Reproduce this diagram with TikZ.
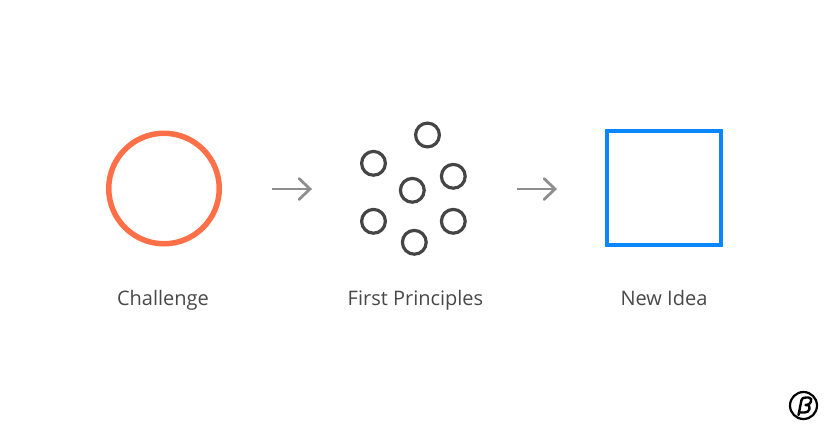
\documentclass[tikz,border=0pt]{standalone}
\usepackage{fontspec}
\setmainfont{Open Sans}
\definecolor{txt}{HTML}{484848}
\definecolor{orng}{HTML}{FF7049}
\definecolor{blu}{HTML}{0A86FF}
\definecolor{arr}{HTML}{8E8E8E}
\definecolor{dots}{HTML}{454545}
\tikzset{
  x=1pt,y=-1pt,
  small/.style={circle,draw=dots,line width=3.2pt,minimum size=23.8pt,inner sep=0pt,outer sep=0pt},
  lbl/.style={text=txt,font=\fontsize{20}{24}\selectfont,anchor=base,inner sep=0pt},
  arrline/.style={draw=arr,line width=2.8pt},
}
\begin{document}
\begin{tikzpicture}
\useasboundingbox (0,0) rectangle (830,432);
\node[circle,draw=orng,line width=5.5pt,minimum size=110.5pt,inner sep=0pt] (chal) at (164,188.5) {};
\node[draw=blu,line width=4pt,minimum size=114pt,inner sep=0pt] (idea) at (664,188) {};
\node[small] (c1) at (427.5,135) {};
\node[small] (c2) at (373.5,163.3) {};
\node[small] (c3) at (453.3,176.3) {};
\node[small] (c4) at (412.3,190.3) {};
\node[small] (c5) at (373.5,221.3) {};
\node[small] (c6) at (453.3,221.3) {};
\node[small] (c7) at (414.3,242.3) {};
\coordinate (a1s) at (272,189);
\coordinate (a1e) at (310,189);
\coordinate (a2s) at (517,189);
\coordinate (a2e) at (555,189);
\foreach \s/\e in {a1s/a1e,a2s/a2e}{
  \draw[arrline] (\s) -- (\e);
  \draw[arrline,line cap=round,line join=miter] ([shift={(-11,-10.5)}]\e) -- (\e) -- ([shift={(-11,10.5)}]\e);
}
\node[lbl] (t1) at (163,305) {Challenge};
\node[lbl] (t2) at (415.5,305) {First Principles};
\node[lbl] (t3) at (664,305) {New Idea};
\node[circle,draw=black,line width=2.2pt,minimum size=27pt,inner sep=0pt] (logo) at (803.5,405.5) {};
\draw[black,line width=2.4pt,line cap=round,line join=round]
  (798.5,415) -- (801.5,400) .. controls (802,398) and (803.5,397.5) .. (806,397.5)
  -- (808.5,397.5) .. controls (811.5,397.5) and (811.5,400) .. (811,401.5)
  .. controls (810.5,403.5) and (809,404.6) .. (805.5,405)
  .. controls (809.5,405) and (810,406.5) .. (809.5,409)
  .. controls (809,411.5) and (807,412.5) .. (804.5,412.5) -- (799.5,412.5);
\end{tikzpicture}
\end{document}
